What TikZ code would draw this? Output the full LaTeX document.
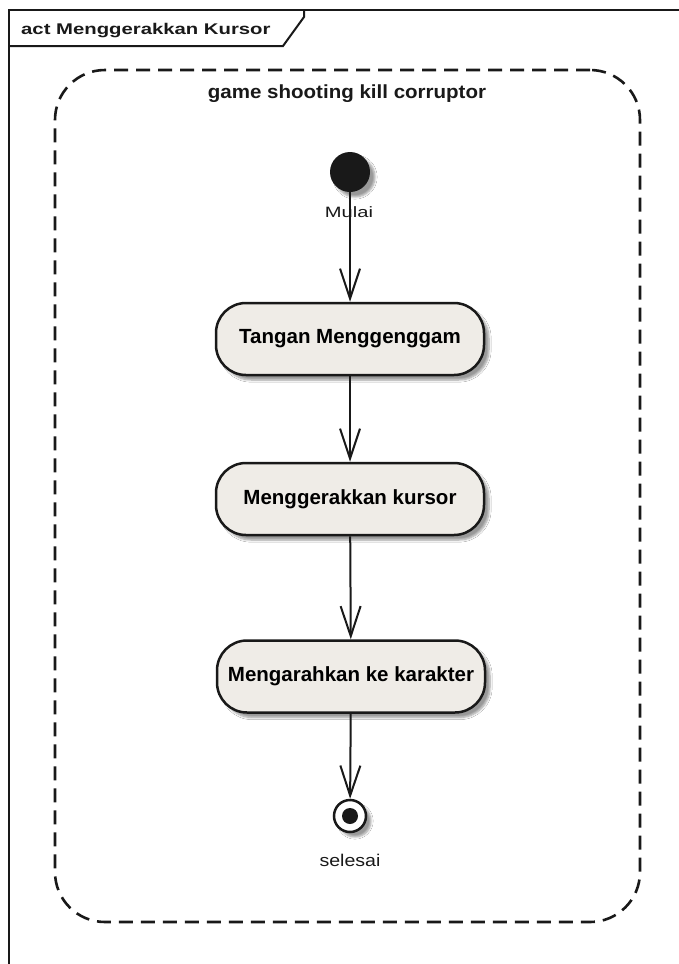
\documentclass[tikz,border=0pt]{standalone}
\usepackage{fontspec}
\setmainfont{Liberation Sans}
\usetikzlibrary{arrows.meta,shadows.blur}
\definecolor{boxfill}{RGB}{239,236,231}
\definecolor{ink}{RGB}{25,25,25}
\begin{document}
\begin{tikzpicture}[x=1pt,y=-1pt,
  frameline/.style={line width=2pt, draw=ink},
  regionline/.style={draw=ink, line width=2.6pt, dash pattern=on 14pt off 8pt, rounded corners=50pt},
  soft/.style={blur shadow={shadow xshift=5pt, shadow yshift=-5pt, shadow blur steps=6, shadow opacity=40}},
  actbox/.style={draw=ink, line width=2.5pt, rounded corners=30pt, fill=boxfill,
    minimum width=268pt, minimum height=72pt, inner sep=0pt, soft,
    font=\fontsize{20.5}{24}\selectfont\bfseries},
  flow/.style={draw=ink, line width=2pt, -{Straight Barb[length=30pt,width=20pt,line width=2pt]}},
  lbl/.style={anchor=base, inner sep=0pt, text=ink}
]
\useasboundingbox (0,0) rectangle (679,964);
\clip (0,0) rectangle (679,964);
\fill[white] (0,0) rectangle (679,964);

% diagram frame with its name tab
\draw[frameline] (9,980) -- (9,10) -- (700,10);
\draw[frameline] (9,46) -- (283,46) -- (304,17) -- (304,10);
\node[anchor=base west, inner sep=0pt, text=ink, font=\fontsize{15.5}{18}\selectfont\bfseries]
  (diagname) at (21,34.5) {\scalebox{1.31}[1]{act Menggerakkan Kursor}};

% activity region
\node[regionline, minimum width=585pt, minimum height=852pt, inner sep=0pt] (region) at (347.5,496) {};
\node[lbl, font=\fontsize{19}{22}\selectfont\bfseries] (regiontitle) at (347,98)
  {\scalebox{1.08}[1]{game shooting kill corruptor}};

% initial and final nodes
\node[circle, fill=ink, minimum size=40pt, inner sep=0pt, soft] (start) at (350,172) {};
\node[circle, draw=ink, line width=2.5pt, fill=white, minimum size=32pt, inner sep=0pt, soft] (finish) at (350,816) {};
\node[circle, fill=ink, minimum size=16pt, inner sep=0pt] (finishdot) at (finish.center) {};

% actions
\node[actbox] (grip) at (350,339) {Tangan Menggenggam};
\node[actbox] (move) at (350,499) {Menggerakkan kursor};
\node[actbox] (aim)  at (351,676.5) {Mengarahkan ke karakter};

% control flow
\draw[flow] (start) -- (grip);
\draw[flow] (grip) -- (move);
\draw[flow] (move) -- (aim);
\draw[flow] (aim) -- (finish);

% node labels
\node[lbl, font=\fontsize{15}{18}\selectfont] (startlabel) at (349,217) {\scalebox{1.34}[1]{Mulai}};
\node[lbl, font=\fontsize{17}{20}\selectfont] (finishlabel) at (350,866) {\scalebox{1.15}[1]{selesai}};
\end{tikzpicture}
\end{document}
